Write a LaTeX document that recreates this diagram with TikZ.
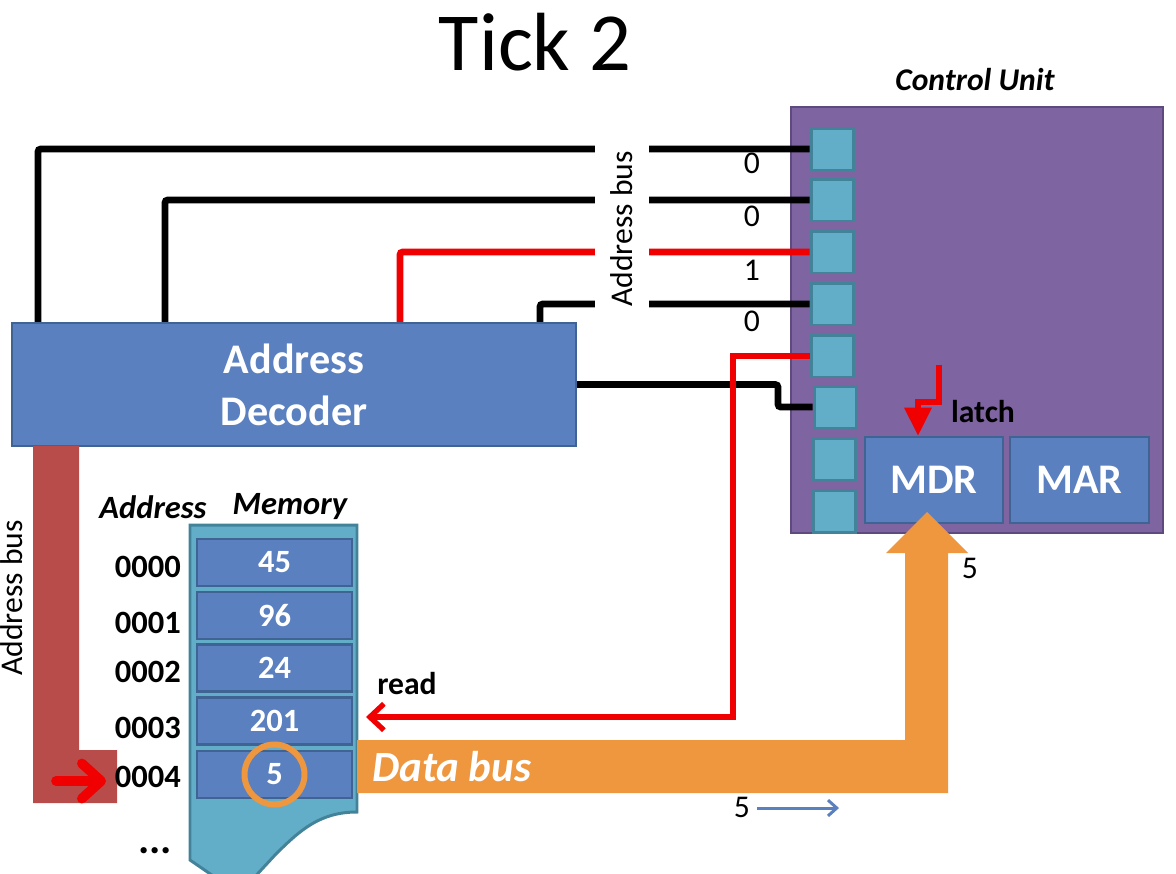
\documentclass[tikz,border=0pt]{standalone}
\usepackage{fontspec}
\setmainfont{Carlito}
\usetikzlibrary{arrows.meta,calc}
\definecolor{decblue}{HTML}{5A80C0}
\definecolor{decborder}{HTML}{3F6392}
\definecolor{sqfill}{HTML}{62AEC8}
\definecolor{sqborder}{HTML}{43839A}
\definecolor{cupurple}{HTML}{7F64A2}
\definecolor{cuborder}{HTML}{5E4A7E}
\definecolor{busorange}{HTML}{EE973F}
\definecolor{busred}{HTML}{B84C4B}
\definecolor{sigred}{HTML}{F00000}
\definecolor{arrblue}{HTML}{5B80C0}
\tikzset{
  sq/.style={draw=sqborder, fill=sqfill, line width=1.7pt, minimum width=0.84cm, minimum height=0.84cm, inner sep=0pt},
  bluebox/.style={draw=decborder, fill=decblue, line width=1.4pt, inner sep=0pt, text=white},
  cell/.style={bluebox, minimum width=3.1cm, minimum height=0.94cm, font=\fontsize{18.5}{22}\selectfont\bfseries},
  wire/.style={line width=3.8pt, rounded corners=1.5pt},
  addr/.style={anchor=east, font=\fontsize{18.5}{22}\selectfont\bfseries},
  plain/.style={font=\fontsize{18}{22}\selectfont},
}
\begin{document}
\begin{tikzpicture}[x=0.02cm,y=-0.02cm]
\useasboundingbox (0,0) rectangle (1176,873);
\begin{scope}
\clip (0,0) rectangle (1176,873);
% title
\node[font=\fontsize{47}{56}\selectfont] (title) at (535,42) {Tick 2};
\node[font=\fontsize{18}{22}\selectfont\bfseries\itshape] (cutitle) at (975,80) {Control Unit};
% control unit
\node[draw=cuborder, fill=cupurple, line width=1.4pt, minimum width=7.44cm, minimum height=8.52cm, inner sep=0pt] (cu) at (977,320) {};
\node[sq] (s1) at (832,149) {};
\node[sq] (s2) at (832,200) {};
\node[sq] (s3) at (832,252) {};
\node[sq] (s4) at (832,304) {};
\node[sq] (s5) at (832,356) {};
\node[sq] (s6) at (835,407) {};
\node[sq] (s7) at (834,459) {};
\node[sq] (s8) at (834,511) {};
\node[bluebox, minimum width=2.76cm, minimum height=1.72cm, font=\fontsize{24}{29}\selectfont\bfseries] (mdr) at (934,480) {MDR};
\node[bluebox, minimum width=2.78cm, minimum height=1.72cm, font=\fontsize{24}{29}\selectfont\bfseries] (mar) at (1079.5,480) {MAR};
% wires from control unit to decoder
\coordinate (d1) at (38,323);
\coordinate (d2) at (165,323);
\coordinate (d3) at (400,323);
\coordinate (d4) at (540,323);
\draw[wire] (s1.west) -| (d1);
\draw[wire] (s2.west) -| (d2);
\draw[wire, draw=sigred] (s3.west) -| (d3);
\draw[wire] (s4.west) -| (d4);
\node[plain, fill=white, rotate=90, inner xsep=4pt, inner ysep=9pt] (abus1) at (622,229) {Address bus};
\node[plain] (b1) at (752,163) {0};
\node[plain] (b2) at (752,216) {0};
\node[plain] (b3) at (752,270) {1};
\node[plain] (b4) at (752,321) {0};
% decoder
\node[bluebox, minimum width=11.28cm, minimum height=2.46cm, align=center, font=\fontsize{24}{29.5}\selectfont\bfseries] (dec) at (294,384.5) {Address\\Decoder};
\coordinate (k6) at (778,384.5);
\draw[wire] (dec.east) -- (k6) |- (s6.west);
% read signal
\coordinate (r1) at (733,717);
\coordinate (rtip) at (366,717);
\draw[line width=3pt, draw=sigred, -{Straight Barb[length=8pt,width=15pt]}] (s5.west) -| (r1) -- (rtip);
\node[font=\fontsize{18}{22}\selectfont\bfseries] (read) at (407,684) {read};
% latch
\coordinate (l0) at (939,365);
\coordinate (ltip) at ($(mdr.north)+(-16,0)$);
\draw[line width=3pt, draw=sigred, -{Triangle[length=16pt,width=15pt]}] (l0) -- (939,402) -| (ltip);
\node[font=\fontsize{18}{22}\selectfont\bfseries] (latch) at (983,412) {latch};
% address bus to memory
\fill[busred] (33,446) -- (79,446) -- (79,750) -- (117,750) -- (117,803) -- (33,803) -- cycle;
\node[plain, rotate=90] (abus2) at (12,598) {Address bus};
\coordinate (a0) at (56,781);
\coordinate (a1) at (106,781);
\draw[line width=5.5pt, draw=sigred, line cap=round, -{Straight Barb[length=11pt,width=20pt,round]}] (a0) -- (a1);
% memory
\draw[draw=sqborder, fill=sqfill, line width=1.7pt] (190,525) -- (357,525) -- (357,812)
  .. controls (320,812) and (300,830) .. (275,855) .. controls (262,868) .. (250,882)
  -- (222,882) -- (190,860) -- cycle;
\node[font=\fontsize{18.5}{22}\selectfont\bfseries\itshape] (haddr) at (153,507) {Address};
\node[font=\fontsize{18.5}{22}\selectfont\bfseries\itshape] (hmem) at (290,507) {Memory};
\node[cell] (c0) at (274.5,562.5) {45};
\node[cell] (c1) at (274.5,615.5) {96};
\node[cell] (c2) at (274.5,668) {24};
\node[cell] (c3) at (274.5,721) {201};
\node[cell] (c4) at (274.5,774.5) {5};
\node[addr] (a00) at (187,567) {0000};
\node[addr] (a01) at (187,623) {0001};
\node[addr] (a02) at (187,672) {0002};
\node[addr] (a03) at (187,728) {0003};
\node[addr] (a04) at (187,777) {0004};
\node[font=\fontsize{24}{28}\selectfont\bfseries] (dots) at (155,851) {...};
\draw[busorange, line width=3.4pt] (c4.center) circle[radius=0.6cm];
% data bus
\fill[busorange] (357,740) -- (905,740) -- (905,553) -- (886,553) -- (927,512) -- (968,553) -- (948,553) -- (948,793) -- (357,793) -- cycle;
\node[anchor=west, text=white, font=\fontsize{24.5}{29}\selectfont\bfseries\itshape] (dbus) at (366,767) {Data bus};
\node[plain] (v5a) at (970,568) {5};
\node[plain] (v5b) at (742,807) {5};
\coordinate (e0) at (757,808);
\coordinate (e1) at (839,808);
\draw[arrblue, line width=1.7pt, -{Straight Barb[length=5pt,width=9pt]}] (e0) -- (e1);
\end{scope}
\end{tikzpicture}
\end{document}
